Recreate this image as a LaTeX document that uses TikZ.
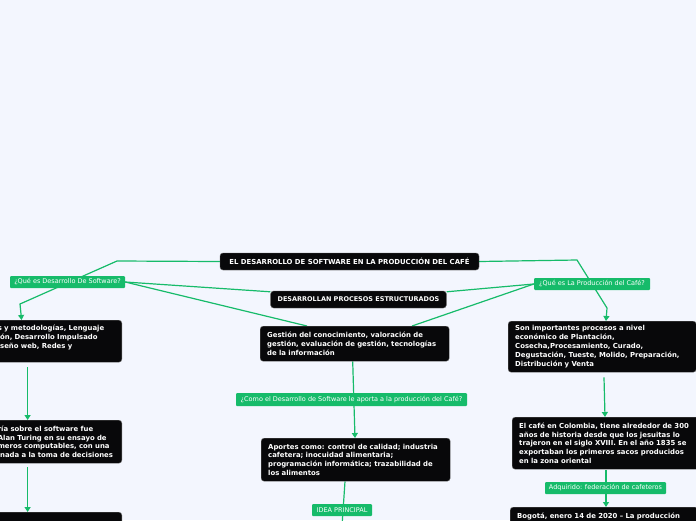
\documentclass[tikz,border=0pt]{standalone}
\usepackage{fontspec}
\setmainfont{DejaVu Sans}
\usetikzlibrary{arrows.meta,calc,backgrounds}
\definecolor{verde}{RGB}{22,187,106}
\definecolor{fondo}{RGB}{243,246,254}
\definecolor{negro}{RGB}{8,8,10}

\begin{document}
\begin{tikzpicture}[x=1pt,y=-1pt,
  caja/.style={fill=negro,draw=black!60,line width=0.4pt,rounded corners=3pt,text=white,
    font=\bfseries\fontsize{6.9}{8.8}\selectfont,align=left,inner xsep=7pt,inner ysep=0pt},
  etiqueta/.style={fill=verde,rounded corners=1pt,text=white,font=\fontsize{6.5}{7}\selectfont,inner sep=0pt},
  rama/.style={draw=verde,line width=1.2pt},
  flecha/.style={rama,-{Triangle[width=6pt,length=5pt]}}]
\useasboundingbox (0,0) rectangle (696,520);
\clip (0,0) rectangle (696,520);

% ideas centrales
\node[caja,minimum width=259pt,minimum height=17pt] (titulo) at (349.5,261.5) {EL DESARROLLO DE SOFTWARE EN LA PRODUCCIÓN DEL CAFÉ};
\node[caja,font=\bfseries\fontsize{6.5}{8}\selectfont,minimum width=175pt,minimum height=17pt] (procesos) at (358.5,299.5) {DESARROLLAN PROCESOS ESTRUCTURADOS};
\node[etiqueta,minimum width=115pt,minimum height=12pt] (qsoft) at (67.5,282) {¿Qué es Desarrollo De Software?};
\node[etiqueta,minimum width=116pt,minimum height=12pt] (qcafe) at (592,284) {¿Qué es La Producción del Café?};

% columna central
\node[caja,anchor=north west,text width=175pt,minimum height=35pt] (gestion) at (260,326)
  {Gestión del conocimiento, valoración de\\gestión, evaluación de gestión, tecnologías\\de la información};
\node[etiqueta,minimum width=231pt,minimum height=13pt] (como) at (351.5,399.5) {¿Como el Desarrollo de Software le aporta a la producción del Café?};
\node[caja,anchor=north west,text width=175pt,minimum height=43pt] (aportes) at (261,438)
  {Aportes como: control de calidad; industria\\cafetera; inocuidad alimentaria;\\programación informática; trazabilidad de\\los alimentos};
\node[etiqueta,minimum width=60pt,minimum height=12pt] (idea) at (342,510) {IDEA PRINCIPAL};

% columna izquierda
\node[caja,anchor=north east,text width=117pt,minimum height=42pt] (izq1) at (122,320)
  {s y metodologías, Lenguaje\\ión, Desarrollo Impulsado\\iseño web, Redes y\\\mbox{}};
\node[caja,anchor=north east,text width=117pt,minimum height=43pt] (izq2) at (122,420)
  {ría sobre el software fue\\Alan Turing en su ensayo de\\meros computables, con una\\inada a la toma de decisiones};
\node[caja,anchor=north east,text width=117pt,minimum height=30pt] (izq3) at (122,512) {};

% columna derecha
\node[caja,anchor=north west,text width=174pt,minimum height=51pt] (son) at (508,321)
  {Son importantes procesos a nivel\\económico de Plantación,\\Cosecha,Procesamiento, Curado,\\Degustación, Tueste, Molido, Preparación,\\Distribución y Venta};
\node[caja,anchor=north west,text width=176pt,minimum height=52pt] (cafecol) at (512,417)
  {El café en Colombia, tiene alrededor de 300\\años de historia desde que los jesuitas lo\\trajeron en el siglo XVIII. En el año 1835 se\\exportaban los primeros sacos producidos\\en la zona oriental};
\node[etiqueta,minimum width=121pt,minimum height=12pt] (adq) at (605.5,488) {Adquirido: federación de cafeteros};
\node[caja,anchor=north west,text width=174pt,inner ysep=6pt] (bogota) at (510,507)
  {Bogotá, enero 14 de 2020 – La producción};

\coordinate (codoI) at (117,261);
\coordinate (quiebreI) at (20,304);
\coordinate (codoD) at (577,260);
\coordinate (quiebreD) at (607,308);
\coordinate (fin) at (342,526);

\begin{scope}[on background layer]
\fill[fondo] (0,0) rectangle (696,520);
\draw[flecha] (titulo.west) -- (codoI) -- (quiebreI) -- ($(izq1.north west)+(31,0)$);
\draw[flecha] (titulo.east) -- (codoD) -- (quiebreD) -- ($(son.north west)+(98,0)$);
\draw[rama] (qsoft.east) -- ($(procesos.north west)+(0,1)$);
\draw[rama] (qsoft.east) -- ($(gestion.north west)+(47,0)$);
\draw[rama] (qcafe.west) -- ($(procesos.north east)+(0,1)$);
\draw[rama] (qcafe.west) -- ($(gestion.north west)+(152,0)$);
\draw[flecha] ($(gestion.south)+(-2,0)$) -- ($(aportes.north west)+(94,0)$);
\draw[rama] ($(aportes.south west)+(84,0)$) -- (fin);
\draw[flecha] ($(izq1.south west)+(37,5)$) -- ($(izq2.north west)+(37,0)$);
\draw[flecha] ($(izq2.south west)+(37,4)$) -- ($(izq3.north west)+(37,0)$);
\draw[flecha] ($(son.south west)+(96,5)$) -- ($(cafecol.north west)+(93,0)$);
\draw[flecha] ($(cafecol.south west)+(94,1)$) -- ($(bogota.north west)+(96,0)$);
\end{scope}
\end{tikzpicture}
\end{document}
